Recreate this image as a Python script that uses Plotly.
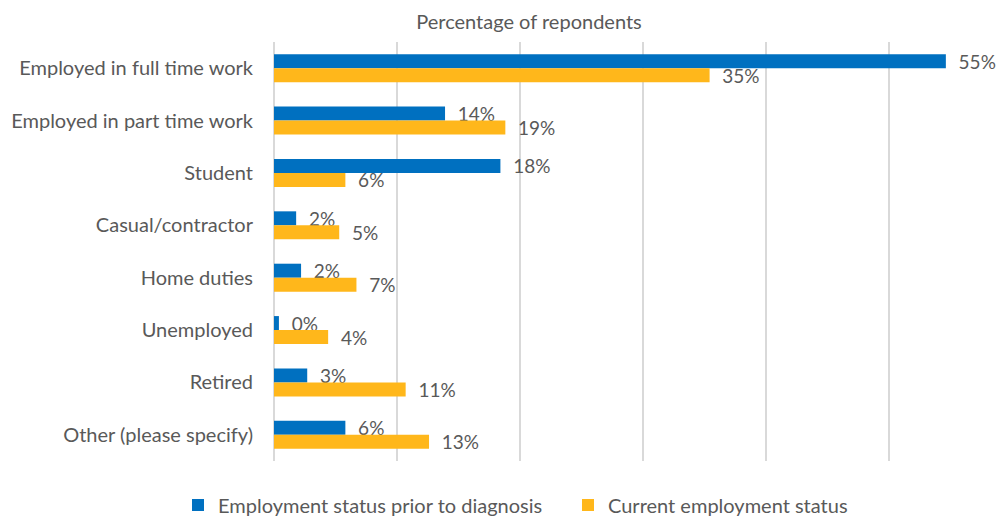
import plotly.graph_objects as go

categories = [
    "Employed in full time work",
    "Employed in part time work",
    "Student",
    "Casual/contractor",
    "Home duties",
    "Unemployed",
    "Retired",
    "Other (please specify)",
]
prior_to_diagnosis = [54.6, 13.9, 18.4, 1.8, 2.2, 0.4, 2.7, 5.8]
current_status = [35.4, 18.8, 5.8, 5.3, 6.7, 4.4, 10.7, 12.6]
series_names = ["Employment status prior to diagnosis", "Current employment status"]

FONT = "Lato, 'Open Sans', sans-serif"
LABEL_GREY = "#595959"

fig = go.Figure()
for name, values, color, legend_id in [
    (series_names[0], prior_to_diagnosis, "#0070C0", "legend"),
    (series_names[1], current_status, "#FFB71B", "legend2"),
]:
    fig.add_trace(go.Bar(
        y=categories,
        x=values,
        name=name,
        orientation="h",
        legend=legend_id,
        marker=dict(color=color, line=dict(width=0)),
        texttemplate="\u00a0\u00a0%{x:.0f}%",
        textposition="outside",
        constraintext="none",
        textfont=dict(family=FONT, size=19, color=LABEL_GREY),
        cliponaxis=False,
    ))

legend_style = dict(
    orientation="h",
    xanchor="left",
    xref="container",
    yref="container", y=1 - 505 / 518, yanchor="middle",
    font=dict(family=FONT, size=20, color=LABEL_GREY),
    itemwidth=30,
    bgcolor="rgba(0,0,0,0)",
)

fig.update_layout(
    width=1000,
    height=518,
    margin=dict(l=274, r=0, t=42, b=57),
    paper_bgcolor="white",
    plot_bgcolor="white",
    barmode="group",
    bargap=0.466,
    bargroupgap=0,
    title=dict(
        text="Percentage of repondents",
        x=0.529, xanchor="center",
        y=1 - 22 / 518, yanchor="middle",
        font=dict(family=FONT, size=20, color=LABEL_GREY),
    ),
    xaxis=dict(
        range=[0, 59],
        dtick=10,
        showticklabels=False,
        showgrid=True,
        gridcolor="#D9D9D9",
        gridwidth=1.5,
        zeroline=True,
        zerolinecolor="#D9D9D9",
        zerolinewidth=1.5,
        fixedrange=True,
    ),
    yaxis=dict(
        autorange="reversed",
        showgrid=False,
        ticks="",
        ticklabelstandoff=20,
        tickfont=dict(family=FONT, size=20, color=LABEL_GREY),
    ),
    legend=dict(legend_style, x=0.178),
    legend2=dict(legend_style, x=0.568),
    showlegend=True,
)

fig.write_html("out.html")
